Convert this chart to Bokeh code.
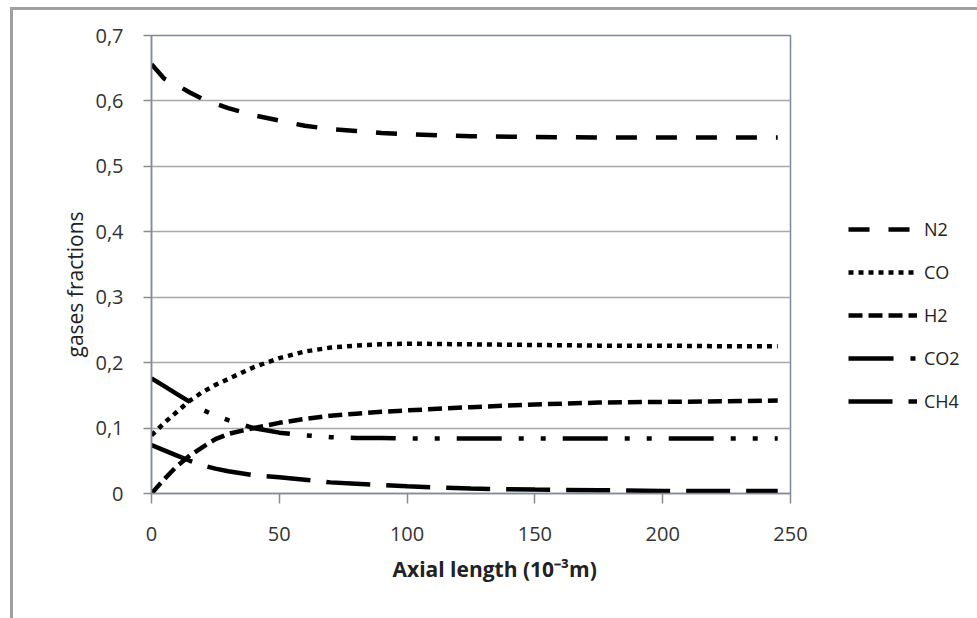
from bokeh.plotting import figure
from bokeh.models import (Range1d, FixedTicker, CustomJSTickFormatter, Legend, LegendItem, Title)
from bokeh.embed import file_html
from bokeh.resources import INLINE

# ---- data ----
x = [0, 5, 10, 15, 20, 25, 30, 40, 50, 60, 70, 80, 90, 100, 125, 150, 175, 200, 225, 245]
n2 = [0.656, 0.634, 0.624, 0.613, 0.603, 0.596, 0.589, 0.578, 0.570, 0.562, 0.557, 0.554, 0.551, 0.549, 0.546, 0.545, 0.544, 0.544, 0.544, 0.544]
co = [0.089, 0.108, 0.125, 0.142, 0.155, 0.166, 0.175, 0.193, 0.207, 0.217, 0.223, 0.226, 0.228, 0.229, 0.228, 0.227, 0.226, 0.226, 0.225, 0.225]
h2 = [0.000, 0.022, 0.042, 0.058, 0.071, 0.083, 0.091, 0.100, 0.108, 0.114, 0.119, 0.122, 0.125, 0.127, 0.132, 0.136, 0.139, 0.140, 0.141, 0.142]
co2 = [0.176, 0.164, 0.152, 0.140, 0.128, 0.119, 0.112, 0.100, 0.093, 0.089, 0.086, 0.085, 0.085, 0.084, 0.084, 0.084, 0.084, 0.084, 0.084, 0.084]
ch4 = [0.074, 0.066, 0.058, 0.050, 0.043, 0.038, 0.034, 0.028, 0.025, 0.021, 0.017, 0.015, 0.013, 0.011, 0.0075, 0.006, 0.005, 0.004, 0.004, 0.004]
series_names = ["N2", "CO", "H2", "CO2", "CH4"]
x_ticks = [0, 50, 100, 150, 200, 250]
y_ticks = [0, 0.1, 0.2, 0.3, 0.4, 0.5, 0.6, 0.7]
x_title = "Axial length (10\u207b\u00b3m)"
y_title = "gases fractions"

FONT = "Open Sans"

p = figure(frame_width=639, frame_height=458, output_backend="svg", toolbar_location=None,
           x_range=Range1d(0, 250), y_range=Range1d(0, 0.7),
           min_border_left=138, min_border_right=187, min_border_top=25, min_border_bottom=125)
p.styles = {"border-top": "3px solid #a0a0a0", "border-left": "3px solid #a0a0a0",
            "margin-left": "10px", "margin-top": "7px"}

p.background_fill_color = "white"
p.border_fill_color = "white"
p.outline_line_color = "#7888a0"
p.outline_line_width = 1.5

p.xgrid.grid_line_color = None
p.ygrid.grid_line_color = "#a8a8a8"
p.ygrid.grid_line_width = 1.5

for ax in (p.xaxis[0], p.yaxis[0]):
    ax.axis_line_color = "#8c8c8c"
    ax.axis_line_width = 1.5
    ax.major_tick_line_color = "#8c8c8c"
    ax.major_tick_line_width = 1.5
    ax.major_tick_in = 0
    ax.minor_tick_line_color = None
    ax.major_label_text_font = FONT
    ax.major_label_text_font_size = "20px"
    ax.major_label_text_color = "#333333"

p.xaxis.ticker = FixedTicker(ticks=x_ticks)
p.xaxis.major_tick_out = 10
p.xaxis.major_label_standoff = 23
p.yaxis.ticker = FixedTicker(ticks=y_ticks)
p.yaxis.major_tick_out = 8
p.yaxis.major_label_standoff = 20
p.yaxis.formatter = CustomJSTickFormatter(code='return tick == 0 ? "0" : tick.toFixed(1).replace(".", ",")')

styles = [
    dict(line_dash="21 19"),
    dict(line_dash="5 5"),
    dict(line_dash="14 6"),
    dict(line_dash="45 17 5 17 5 17"),
    dict(line_dash="44 16"),
]
data = [n2, co, h2, co2, ch4]
items = []
for name, ys, st in zip(series_names, data, styles):
    r = p.line(x, ys, line_color="black", line_width=4.5, **st)
    items.append(LegendItem(label=name, renderers=[r]))

legend = Legend(items=items, location=(58, 80), glyph_width=69, glyph_height=24,
                label_height=24, label_standoff=7, spacing=19, padding=0, margin=0,
                border_line_color=None, background_fill_alpha=0,
                label_text_font=FONT, label_text_font_size="18px", label_text_color="#222222")
p.add_layout(legend, "right")

p.add_layout(Title(text=x_title, align="left", offset=241, standoff=19, text_font=FONT,
                   text_font_style="bold", text_font_size="21px", text_color="#222222"), "below")
p.add_layout(Title(text=y_title, align="left", offset=136, standoff=8, text_font=FONT,
                   text_font_style="normal", text_font_size="21px", text_color="#222222"), "left")

open("out.html", "w").write(file_html(p, INLINE))
